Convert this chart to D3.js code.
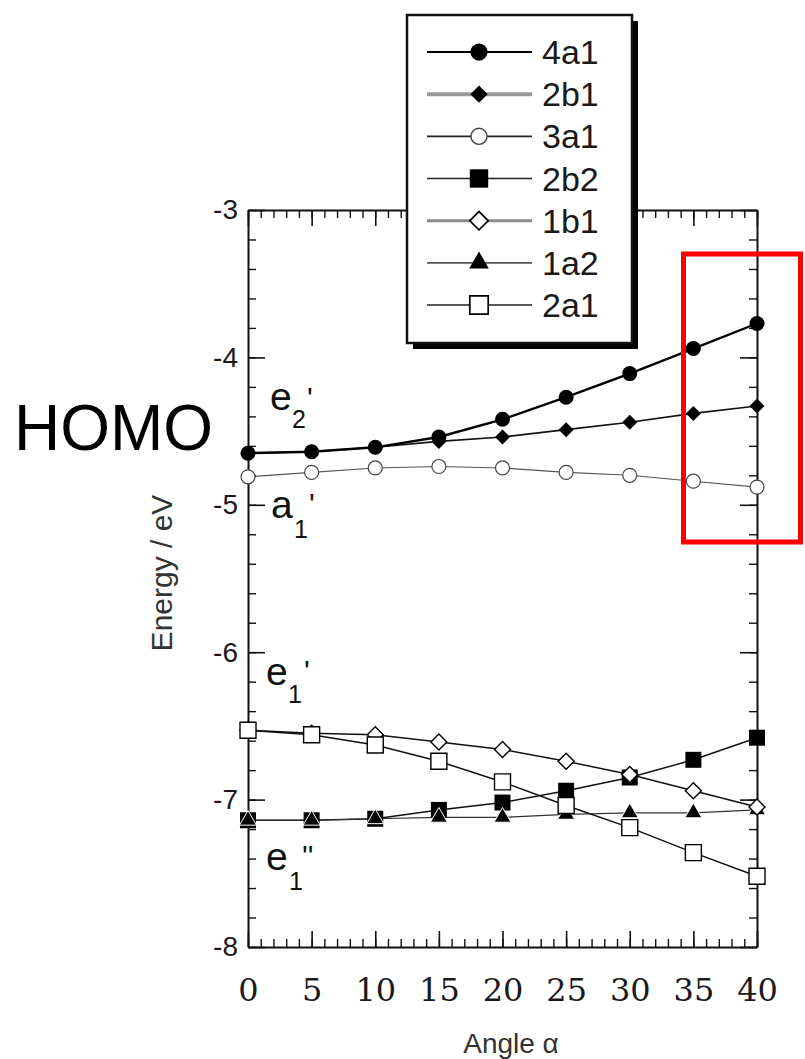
<!DOCTYPE html>
<html><head><meta charset="utf-8">
<script src="https://cdn.jsdelivr.net/npm/d3@7"></script>
<style>body{margin:0;background:#fff} svg{display:block}</style>
</head><body>
<svg id="chart" width="805" height="1059"></svg>
<script>
// Orbital energies (eV) versus bending angle alpha (degrees)
const angles = [0, 5, 10, 15, 20, 25, 30, 35, 40];
const orb4a1 = [-4.65, -4.64, -4.61, -4.54, -4.42, -4.27, -4.11, -3.94, -3.77];
const orb2b1 = [-4.65, -4.64, -4.61, -4.57, -4.54, -4.49, -4.44, -4.38, -4.33];
const orb3a1 = [-4.81, -4.78, -4.75, -4.74, -4.75, -4.78, -4.80, -4.84, -4.88];
const orb2b2 = [-7.14, -7.14, -7.13, -7.07, -7.02, -6.94, -6.85, -6.73, -6.58];
const orb1b1 = [-6.53, -6.55, -6.56, -6.61, -6.66, -6.74, -6.83, -6.94, -7.05];
const orb1a2 = [-7.14, -7.14, -7.13, -7.12, -7.12, -7.10, -7.09, -7.09, -7.07];
const orb2a1 = [-6.53, -6.56, -6.63, -6.74, -6.88, -7.04, -7.19, -7.36, -7.52];
const seriesNames = ["4a1", "2b1", "3a1", "2b2", "1b1", "1a2", "2a1"];
const seriesValues = [orb4a1, orb2b1, orb3a1, orb2b2, orb1b1, orb1a2, orb2a1];
const xTicks = [0, 5, 10, 15, 20, 25, 30, 35, 40];
const yTicks = [-8, -7, -6, -5, -4, -3];
const xTitle = "Angle \u03b1";
const yTitle = "Energy / eV";

// Marker and line appearance for each orbital
const styles = {
  "4a1": {shape: "circle",   fill: "#000", stroke: "#000", sw: 0,   size: 15, lw: 2.4, lc: "#000", legLw: 2,   legLc: "#000"},
  "2b1": {shape: "diamond",  fill: "#000", stroke: "#000", sw: 0,   size: 15, lw: 1.6, lc: "#111", legLw: 4,   legLc: "#9a9a9a"},
  "3a1": {shape: "circle",   fill: "#fff", stroke: "#444", sw: 1.2, size: 14, lw: 1.1, lc: "#555", legLw: 1.6, legLc: "#222"},
  "2b2": {shape: "square",   fill: "#000", stroke: "#000", sw: 0,   size: 16, lw: 1.5, lc: "#111", legLw: 1.6, legLc: "#222"},
  "1b1": {shape: "diamond",  fill: "#fff", stroke: "#000", sw: 1.4, size: 16, lw: 1.5, lc: "#111", legLw: 3,   legLc: "#8a8a8a"},
  "1a2": {shape: "triangle", fill: "#000", stroke: "#fff", sw: 1,   size: 17, lw: 1.2, lc: "#333", legLw: 1.8, legLc: "#555"},
  "2a1": {shape: "square",   fill: "#fff", stroke: "#000", sw: 1.4, size: 16, lw: 1.5, lc: "#111", legLw: 1.6, legLc: "#222"}
};
// Plot stacking order (last drawn on top)
const drawOrder = ["2b2", "1a2", "1b1", "2a1", "3a1", "2b1", "4a1"];

function markerPath(shape, size) {
  if (shape === "circle") return d3.symbol(d3.symbolCircle, Math.PI * size * size / 4)();
  if (shape === "square") return d3.symbol(d3.symbolSquare, size * size)();
  if (shape === "diamond") { const s = size / Math.SQRT2; return d3.symbol(d3.symbolSquare, s * s)(); }
  if (shape === "triangle") return d3.symbol(d3.symbolTriangle, Math.sqrt(3) / 4 * size * size)();
}
function markerRotation(shape) { return shape === "diamond" ? 45 : 0; }

const svg = d3.select("#chart");
const x = d3.scaleLinear().domain([0, 40]).range([248, 757]);
const y = d3.scaleLinear().domain([-8, -3]).range([947, 210]);
const minorX = d3.range(0, 41, 1);
const minorY = d3.range(0, 26).map(i => +(-8 + i * 0.2).toFixed(1));

// Frame: four axes with inward ticks
function styleAxis(g, w) {
  g.selectAll("path.domain").attr("stroke", "#111").attr("stroke-width", 2);
  g.selectAll(".tick line").attr("stroke", "#111").attr("stroke-width", w);
}
const axes = svg.append("g");
// minor ticks
axes.append("g").attr("transform", "translate(0,947)")
  .call(d3.axisBottom(x).tickValues(minorX).tickSize(-8).tickFormat(""))
  .call(g => { g.select(".domain").remove(); styleAxis(g, 1.4); });
axes.append("g").attr("transform", "translate(0,210)")
  .call(d3.axisTop(x).tickValues(minorX).tickSize(-8).tickFormat(""))
  .call(g => { g.select(".domain").remove(); styleAxis(g, 1.4); });
axes.append("g").attr("transform", "translate(248,0)")
  .call(d3.axisLeft(y).tickValues(minorY).tickSize(-8).tickFormat(""))
  .call(g => { g.select(".domain").remove(); styleAxis(g, 1.4); });
axes.append("g").attr("transform", "translate(757,0)")
  .call(d3.axisRight(y).tickValues(minorY).tickSize(-8).tickFormat(""))
  .call(g => { g.select(".domain").remove(); styleAxis(g, 1.4); });
// major ticks with labels
axes.append("g").attr("transform", "translate(0,947)")
  .call(d3.axisBottom(x).tickValues(xTicks).tickSize(-16).tickSizeOuter(0).tickPadding(31).tickFormat(d3.format("d")))
  .call(g => {
    styleAxis(g, 1.6);
    g.selectAll("text").attr("fill", "#1a1a1a")
      .style("font-family", "'DejaVu Serif', serif").style("font-size", "32px");
  });
axes.append("g").attr("transform", "translate(0,210)")
  .call(d3.axisTop(x).tickValues(xTicks).tickSize(-16).tickSizeOuter(0).tickFormat(""))
  .call(g => styleAxis(g, 1.6));
axes.append("g").attr("transform", "translate(248,0)")
  .call(d3.axisLeft(y).tickValues(yTicks).tickSize(-17).tickSizeOuter(0).tickPadding(10).tickFormat(d => d3.format("d")(d).replace("\u2212", "-")))
  .call(g => {
    styleAxis(g, 1.6);
    g.selectAll("text").attr("fill", "#1a1a1a")
      .style("font-family", "'Liberation Sans', Arial, sans-serif").style("font-size", "28px");
  });
axes.append("g").attr("transform", "translate(757,0)")
  .call(d3.axisRight(y).tickValues(yTicks).tickSize(-17).tickSizeOuter(0).tickFormat(""))
  .call(g => styleAxis(g, 1.6));

// Series lines and markers
const line = d3.line().x((d, i) => x(angles[i])).y(d => y(d));
const plot = svg.append("g");
drawOrder.forEach(name => {
  const vals = seriesValues[seriesNames.indexOf(name)];
  const st = styles[name];
  plot.append("path").datum(vals).attr("d", line)
    .attr("fill", "none").attr("stroke", st.lc).attr("stroke-width", st.lw);
});
drawOrder.forEach(name => {
  const vals = seriesValues[seriesNames.indexOf(name)];
  const st = styles[name];
  plot.append("g").selectAll("path").data(vals).join("path")
    .attr("d", markerPath(st.shape, st.size))
    .attr("transform", (d, i) => `translate(${x(angles[i])},${y(d)}) rotate(${markerRotation(st.shape)})`)
    .attr("fill", st.fill).attr("stroke", st.stroke).attr("stroke-width", st.sw);
});

// Level labels (irreducible representations)
const levelLabels = [
  {main: "e", sub: "2", prime: "'",  x: 270, y: 410, subX: 292, subY: 428, pX: 307, pY: 408},
  {main: "a", sub: "1", prime: "'",  x: 271, y: 518, subX: 294, subY: 538, pX: 309, pY: 514},
  {main: "e", sub: "1", prime: "'",  x: 266, y: 685, subX: 288, subY: 703, pX: 304, pY: 681},
  {main: "e", sub: "1", prime: "''", x: 266, y: 870, subX: 289, subY: 890, pX: 302, pY: 866}
];
const lab = svg.append("g").style("font-family", "'Liberation Sans', Arial, sans-serif").attr("fill", "#111");
levelLabels.forEach(l => {
  lab.append("text").attr("x", l.x).attr("y", l.y).style("font-size", "39px").text(l.main);
  lab.append("text").attr("x", l.subX).attr("y", l.subY).style("font-size", "25px").text(l.sub);
  lab.append("text").attr("x", l.pX).attr("y", l.pY).style("font-size", "30px").text(l.prime);
});

// Axis titles
svg.append("text").attr("transform", "translate(172,573) rotate(-90)")
  .attr("text-anchor", "middle").attr("fill", "#333")
  .style("font-family", "'Liberation Sans', Arial, sans-serif").style("font-size", "30px")
  .text(yTitle);
svg.append("text").attr("x", 511).attr("y", 1053)
  .attr("text-anchor", "middle").attr("fill", "#333")
  .style("font-family", "'Liberation Sans', Arial, sans-serif").style("font-size", "28px")
  .text(xTitle);

// Legend box with drop shadow
const legend = svg.append("g");
legend.append("rect").attr("x", 413).attr("y", 21).attr("width", 225).attr("height", 328).attr("fill", "#000");
legend.append("rect").attr("x", 407).attr("y", 15).attr("width", 225).attr("height", 328)
  .attr("fill", "#fff").attr("stroke", "#111").attr("stroke-width", 2.5);
const legY = d3.scalePoint().domain(seriesNames).range([52, 305]);
seriesNames.forEach(name => {
  const st = styles[name];
  const cy = legY(name);
  legend.append("line").attr("x1", 427).attr("x2", 532).attr("y1", cy).attr("y2", cy)
    .attr("stroke", st.legLc).attr("stroke-width", st.legLw);
  legend.append("path").attr("d", markerPath(st.shape, st.size * 1.15))
    .attr("transform", `translate(479,${cy}) rotate(${markerRotation(st.shape)})`)
    .attr("fill", st.fill).attr("stroke", st.shape === "triangle" ? "none" : st.stroke)
    .attr("stroke-width", st.sw * 1.2);
  legend.append("text").attr("x", 542).attr("y", cy + 12).attr("fill", "#1a1a1a")
    .style("font-family", "'Liberation Sans', Arial, sans-serif").style("font-size", "34px")
    .text(name);
});

// Side annotation and highlight box
svg.append("text").attr("x", 14).attr("y", 450).attr("fill", "#000")
  .style("font-family", "'Liberation Sans', Arial, sans-serif").style("font-size", "64px")
  .text("HOMO");
svg.append("rect").attr("x", 683.5).attr("y", 254).attr("width", 117).attr("height", 288)
  .attr("fill", "none").attr("stroke", "#f00").attr("stroke-width", 5);
</script>
</body></html>
